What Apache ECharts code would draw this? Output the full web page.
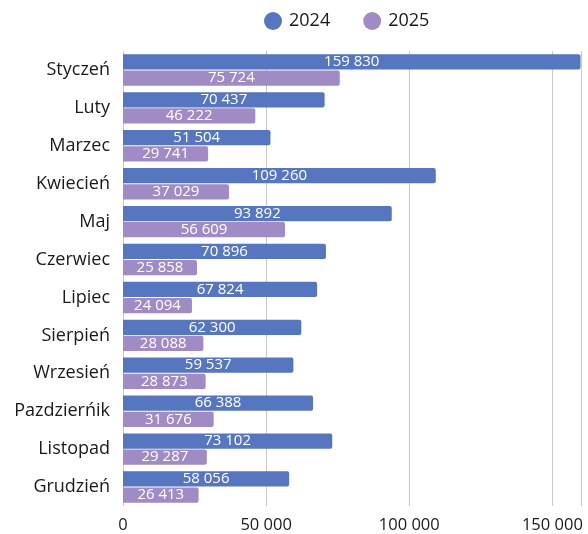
<!DOCTYPE html>
<html><head><meta charset="utf-8">
<script src="https://cdn.jsdelivr.net/npm/echarts@6/dist/echarts.min.js"></script>
<style>html,body{margin:0;padding:0;background:#fff}#c{width:588px;height:534px}</style>
</head><body><div id="c"></div>
<script>
const categories = ["Styczeń","Luty","Marzec","Kwiecień","Maj","Czerwiec","Lipiec","Sierpień","Wrzesień","Pazdzierńik","Listopad","Grudzień"];
const seriesNames = ["2024","2025"];
const values2024 = [159830,70437,51504,109260,93892,70896,67824,62300,59537,66388,73102,58056];
const values2025 = [75724,46222,29741,37029,56609,25858,24094,28088,28873,31676,29287,26413];

const fmt = v => String(v).replace(/\B(?=(\d{3})+(?!\d))/g, ' ');
const font = '"Open Sans", sans-serif';
const chart = echarts.init(document.getElementById('c'));
const mk = (name, data, color) => ({
  name, type: 'bar', data,
  barGap: '6%', barCategoryGap: '17%',
  itemStyle: { color, borderRadius: [0, 2, 2, 0] },
  label: { show: true, position: 'inside', color: '#fff', fontFamily: font, fontSize: 15, formatter: p => fmt(p.value) }
});
chart.setOption({
  animation: false,
  textStyle: { fontFamily: font },
  legend: {
    top: 7, left: 259, itemWidth: 18, itemHeight: 18, icon: 'circle', itemGap: 33,
    textStyle: { fontSize: 18, color: '#1a1a1a', fontFamily: font, padding: [0, 0, 0, 2] }
  },
  grid: { left: 123, right: 7, top: 51, bottom: 20, containLabel: false },
  xAxis: {
    type: 'value', min: 0, max: 160000, interval: 50000,
    axisLine: { show: false }, axisTick: { show: false },
    splitLine: { lineStyle: { color: '#c8c8c8' } },
    axisLabel: { fontSize: 16.5, color: '#1a1a1a', fontFamily: font, formatter: v => fmt(v), margin: 11,
      showMaxLabel: false }
  },
  yAxis: {
    type: 'category', data: categories, inverse: true,
    axisLine: { show: false }, axisTick: { show: false },
    axisLabel: { fontSize: 18, color: '#1a1a1a', fontFamily: font, margin: 13 }
  },
  series: [mk(seriesNames[0], values2024, '#5677c0'), mk(seriesNames[1], values2025, '#a08bc4')]
});
</script></body></html>
